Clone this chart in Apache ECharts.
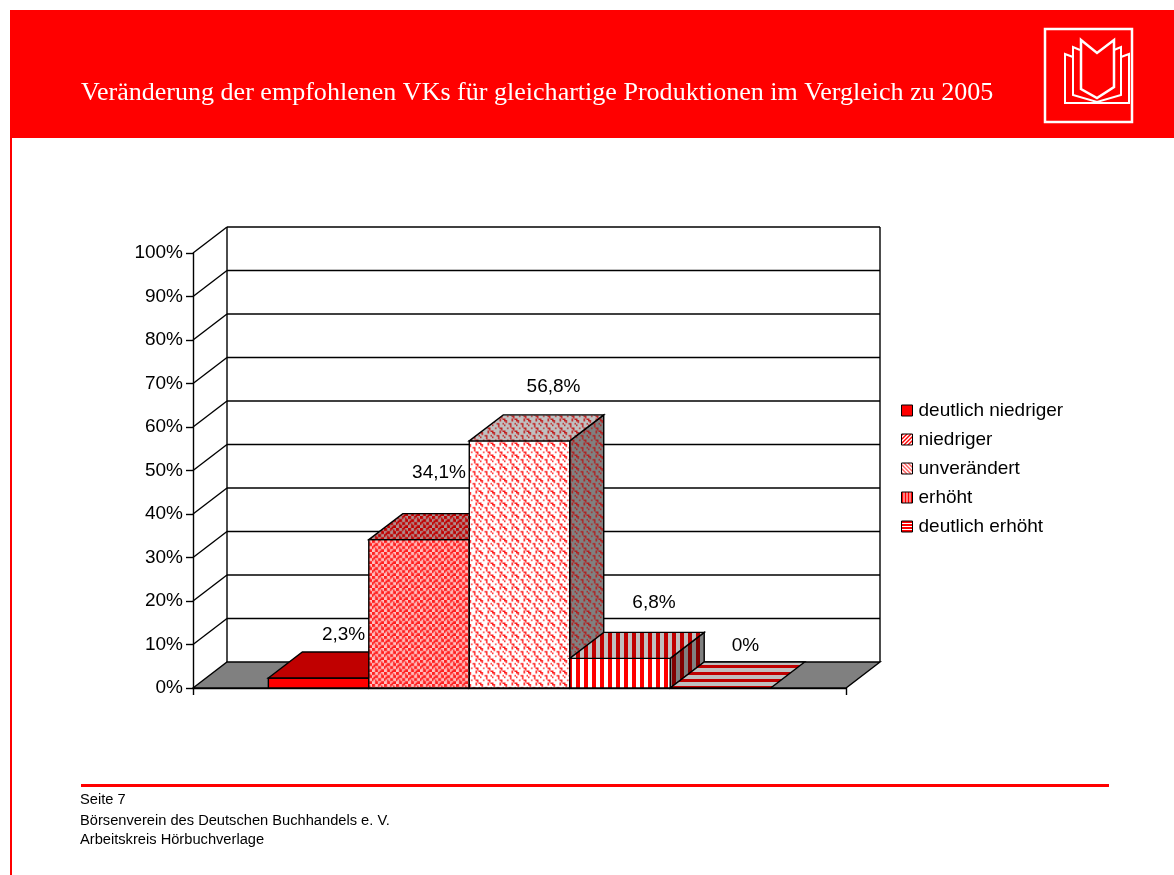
<!DOCTYPE html>
<html>
<head>
<meta charset="utf-8">
<title>Veränderung der empfohlenen VKs</title>
<script src="https://cdn.jsdelivr.net/npm/echarts@6/dist/echarts.min.js"></script>
<style>
  html, body { margin: 0; padding: 0; background: #fff; }
  #chart { width: 1174px; height: 875px; }
</style>
</head>
<body>
<div id="chart"></div>
<script>
const titleText = 'Veränderung der empfohlenen VKs für gleichartige Produktionen im Vergleich zu 2005'
const footerLines = ['Seite 7', 'Börsenverein des Deutschen Buchhandels e. V.', 'Arbeitskreis Hörbuchverlage']

const seriesNames = ['deutlich niedriger', 'niedriger', 'unverändert', 'erhöht', 'deutlich erhöht']
const seriesValues = [2.3, 34.1, 56.8, 6.8, 0]
const yTicks = [0, 10, 20, 30, 40, 50, 60, 70, 80, 90, 100]

// where excel left each label, relative to the top of its bar
const labelOffsets = [[25, -43], [20, -67], [34, -54], [34, -56], [25, -42]]

// 3d depth of the chart box in pixels
const depthX = 34
const depthY = 26
const gapShare = 1.5
const edgeWidth = 1.4

// draws a small bitmap into a canvas, used as repeating fill
const makeTile = (rows, fg, bg, scale) => {
  const w = rows[0].length
  const h = rows.length
  const src = document.createElement('canvas')
  src.width = w
  src.height = h
  const ctx = src.getContext('2d')
  ctx.fillStyle = bg
  ctx.fillRect(0, 0, w, h)
  ctx.fillStyle = fg
  rows.forEach((row, y) => {
    for (let x = 0; x < w; x++) {
      if (row[x] === '#') ctx.fillRect(x, y, 1, 1)
    }
  })
  const out = document.createElement('canvas')
  out.width = Math.round(w * scale)
  out.height = Math.round(h * scale)
  const octx = out.getContext('2d')
  octx.imageSmoothingEnabled = scale !== 1
  octx.drawImage(src, 0, 0, out.width, out.height)
  return { image: out, repeat: 'repeat' }
}

const trellisRows = [
  '##..##..',
  '##..#.#.',
  '..##..##',
  '.###..##',
  '##..##..',
  '#.#.##..',
  '..##..##',
  '..##.###'
]
const weaveRows = [
  '##...#..',
  '.#......',
  '...##..#',
  '#...#...',
  '....#...',
  '..#..##.',
  '......#.',
  '#....#.#'
]
const vertRows = ['####....']
const horizRows = ['###', '###', '###', '...', '...', '...', '...']
const diagUpRows = ['##..', '#..#', '..##', '.##.']
const diagDownRows = ['..##', '#..#', '##..', '.##.']
const thinVertRows = ['##.', '##.', '##.']
const thinHorizRows = ['#', '#', '.']

const shades = {
  front: ['#ff0000', '#ffffff'],
  top: ['#c00000', '#c0c0c0'],
  side: ['#a00000', '#808080']
}
const patternOf = (rows, scale, shade) => makeTile(rows, shades[shade][0], shades[shade][1], scale)

const barFills = [
  { front: '#ff0000', top: '#c00000', side: '#800000' },
  { front: makeTile(trellisRows, '#ff2020', '#ffc0c0', 1.5), top: makeTile(trellisRows, '#c00000', '#b09090', 1.5), side: makeTile(trellisRows, '#a00000', '#808080', 1.5) },
  { front: makeTile(weaveRows, '#ff2020', '#ffffff', 1.5), top: makeTile(weaveRows, '#c02020', '#c0c0c0', 1.5), side: makeTile(weaveRows, '#b02020', '#808080', 1.5) },
  { front: patternOf(vertRows, 1, 'front'), top: patternOf(vertRows, 1, 'top'), side: makeTile(vertRows, '#800000', '#808080', 1) },
  { front: patternOf(horizRows, 1, 'front'), top: patternOf(horizRows, 1, 'top'), side: patternOf(horizRows, 1, 'side') }
]
const legendFills = [
  '#ff0000',
  makeTile(diagUpRows, '#ff0000', '#ffffff', 1),
  makeTile(diagDownRows, '#ff6060', '#ffffff', 1),
  makeTile(thinVertRows, '#ff0000', '#ffffff', 1),
  makeTile(thinHorizRows, '#ff0000', '#ffffff', 1)
]

const lineStyle = { stroke: '#000', lineWidth: edgeWidth, fill: null }

// back wall, side wall and floor, one call per y tick
const renderWalls = (params, api) => {
  const value = api.value(0)
  const box = params.coordSys
  const y = api.coord([0, value])[1]
  const xf = box.x
  const xb = box.x + depthX
  const xe = box.x + box.width + depthX
  const yb = y - depthY
  const children = []
  if (value === 0) {
    children.push({
      type: 'polygon',
      shape: { points: [[xf, y], [xb, yb], [xe, yb], [box.x + box.width, y]] },
      style: { fill: '#808080', stroke: '#000', lineWidth: edgeWidth }
    })
  } else {
    children.push({ type: 'line', shape: { x1: xf, y1: y, x2: xb, y2: yb }, style: lineStyle })
    children.push({ type: 'line', shape: { x1: xb, y1: yb, x2: xe, y2: yb }, style: lineStyle })
  }
  if (value === 100) {
    const bottom = api.coord([0, 0])[1] - depthY
    children.push({ type: 'line', shape: { x1: xb, y1: yb, x2: xb, y2: bottom }, style: lineStyle })
    children.push({ type: 'line', shape: { x1: xe, y1: yb, x2: xe, y2: bottom }, style: lineStyle })
  }
  return { type: 'group', children }
}

const fmtPercent = (v) => String(v).replace('.', ',') + '%'

const renderBar = (index) => (params, api) => {
  const value = api.value(1)
  const band = api.size([1, 0])[0]
  const barWidth = band / (seriesNames.length + gapShare)
  const x0 = api.coord([0, 0])[0] - band / 2 + barWidth * (gapShare / 2 + index)
  const x1 = x0 + barWidth
  const y0 = api.coord([0, 0])[1]
  const y1 = api.coord([0, value])[1]
  const fills = barFills[index]
  const edge = { stroke: '#000', lineWidth: edgeWidth }
  const children = []
  if (y0 - y1 >= 1) {
    children.push({
      type: 'polygon',
      shape: { points: [[x1, y1], [x1 + depthX, y1 - depthY], [x1 + depthX, y0 - depthY], [x1, y0]] },
      style: { fill: fills.side, ...edge }
    })
    children.push({
      type: 'polygon',
      shape: { points: [[x0, y0], [x1, y0], [x1, y1], [x0, y1]] },
      style: { fill: fills.front, ...edge }
    })
  }
  children.push({
    type: 'polygon',
    shape: { points: [[x0, y1], [x1, y1], [x1 + depthX, y1 - depthY], [x0 + depthX, y1 - depthY]] },
    style: { fill: fills.top, ...edge }
  })
  children.push({
    type: 'text',
    style: {
      text: fmtPercent(value),
      x: (x0 + x1) / 2 + labelOffsets[index][0],
      y: y1 + labelOffsets[index][1],
      align: 'center',
      verticalAlign: 'middle',
      fill: '#000',
      font: '19px "Liberation Sans"'
    }
  })
  return { type: 'group', children }
}

const wallsSeries = {
  name: 'walls',
  type: 'custom',
  coordinateSystem: 'cartesian2d',
  silent: true,
  encode: { y: 0 },
  data: yTicks.map(v => [v]),
  renderItem: renderWalls,
  clip: false,
  z: 1
}

const barSeries = seriesNames.map((name, i) => ({
  name,
  type: 'custom',
  coordinateSystem: 'cartesian2d',
  encode: { x: 0, y: 1 },
  data: [[0, seriesValues[i]]],
  renderItem: renderBar(i),
  clip: false,
  z: 3 + i
}))

const headerGraphics = [
  { type: 'rect', shape: { x: 10, y: 10, width: 1164, height: 128 }, style: { fill: '#ff0000' } },
  { type: 'rect', shape: { x: 10, y: 138, width: 2, height: 737 }, style: { fill: '#ff0000' } },
  { type: 'rect', shape: { x: 81, y: 784, width: 1028, height: 3 }, style: { fill: '#ff0000' } },
  {
    type: 'text',
    style: { text: titleText, x: 81, y: 93.5, verticalAlign: 'middle', fill: '#fff', font: '26.06px "Liberation Serif"' }
  },
  // book logo
  { type: 'rect', shape: { x: 1045, y: 29, width: 87, height: 93 }, style: { fill: null, stroke: '#fff', lineWidth: 2.5 } },
  {
    type: 'polygon',
    shape: { points: [[1081, 40], [1097, 53], [1114, 40], [1114, 87], [1097, 98], [1081, 89]] },
    style: { fill: null, stroke: '#fff', lineWidth: 2.5 }
  },
  {
    type: 'polyline',
    shape: { points: [[1080, 50], [1073, 47], [1073, 95], [1097, 102], [1121, 95], [1121, 47], [1114, 50]] },
    style: { fill: null, stroke: '#fff', lineWidth: 2 }
  },
  {
    type: 'polyline',
    shape: { points: [[1073, 57], [1065, 54], [1065, 103], [1129, 103], [1129, 54], [1121, 57]] },
    style: { fill: null, stroke: '#fff', lineWidth: 2 }
  }
]

const footerGraphics = footerLines.map((line, i) => ({
  type: 'text',
  style: { text: line, x: 80, y: [800, 821, 840][i], verticalAlign: 'middle', fill: '#000', font: '14.67px "Liberation Sans"' }
}))

const chart = echarts.init(document.getElementById('chart'), null, { renderer: 'canvas' })
chart.setOption({
  animation: false,
  backgroundColor: '#fff',
  textStyle: { fontFamily: '"Liberation Sans"' },
  graphic: { elements: [...headerGraphics, ...footerGraphics] },
  legend: {
    left: 896,
    top: 396,
    orient: 'vertical',
    itemWidth: 11,
    itemHeight: 11,
    itemGap: 10,
    selectedMode: false,
    textStyle: { fontSize: 19, color: '#000', fontFamily: '"Liberation Sans"', padding: [0, 0, 0, 1] },
    data: seriesNames.map((name, i) => ({
      name,
      icon: 'rect',
      itemStyle: { color: legendFills[i], borderColor: '#000', borderWidth: 1 }
    }))
  },
  grid: { left: 193, right: 328, top: 253, bottom: 187 },
  xAxis: {
    type: 'category',
    data: [''],
    axisLine: { lineStyle: { color: '#000', width: edgeWidth } },
    axisTick: { show: true, length: 7, lineStyle: { color: '#000', width: edgeWidth } },
    axisLabel: { show: false }
  },
  yAxis: {
    type: 'value',
    min: 0,
    max: 100,
    interval: 10,
    axisLine: { show: true, lineStyle: { color: '#000', width: edgeWidth } },
    axisTick: { show: true, length: 7, lineStyle: { color: '#000', width: edgeWidth } },
    axisLabel: { formatter: '{value}%', fontSize: 19, color: '#000', margin: 10, padding: [5, 0, 0, 0], fontFamily: '"Liberation Sans"' },
    splitLine: { show: false }
  },
  series: [wallsSeries, ...barSeries]
})
</script>
</body>
</html>
